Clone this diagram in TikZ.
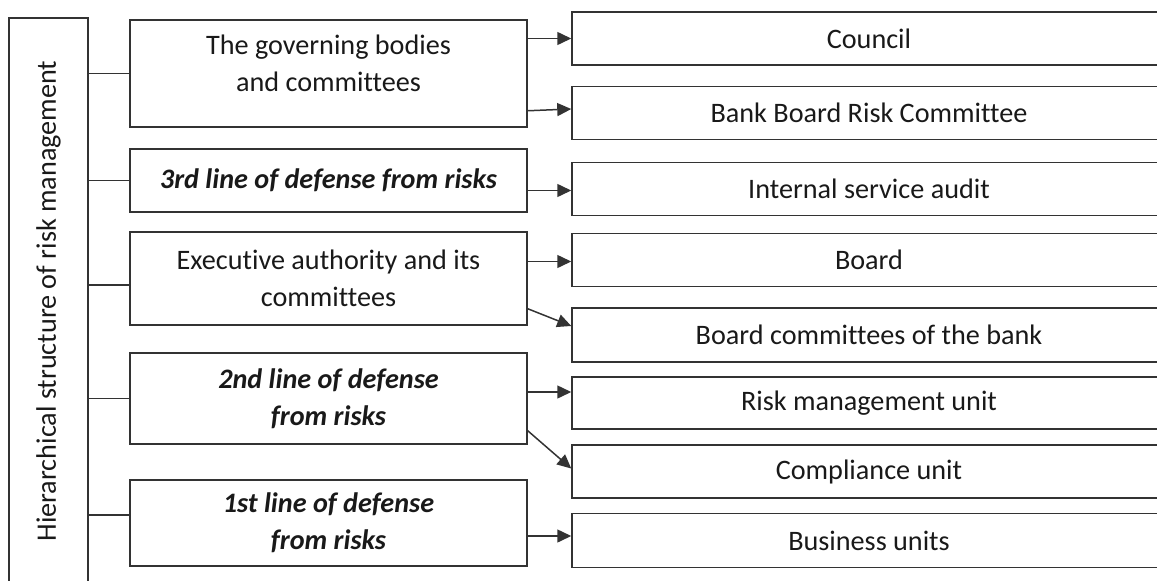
\documentclass[tikz,border=0pt]{standalone}
\usepackage{fontspec}
\setmainfont{Carlito}[Ligatures=NoCommon]
\usetikzlibrary{positioning}
\usetikzlibrary{arrows.meta}

\begin{document}
\begin{tikzpicture}[x=1pt, y=1pt,
		every node/.style={font=\fontsize{28.2}{37}\selectfont, text=black!90},
		box/.style={draw=black!80, line width=1.5pt, rectangle, inner sep=0pt},
		midbox/.style={box, minimum width=397pt, align=center},
		leafbox/.style={box, minimum width=594pt, minimum height=53pt},
		bi/.style={font=\fontsize{28.2}{37}\selectfont\bfseries\itshape},
		link/.style={draw=black!80, line width=1.5pt},
		arr/.style={link, -{Triangle[length=14pt, width=13pt]}}]
		\useasboundingbox (0,0) rectangle (1157,-581);
		\clip (0,0) rectangle (1157,-581);
		
		\node[box, minimum width=79pt, minimum height=566pt] (root) at (48.5,-301) {\rotatebox{90}{Hierarchical structure of risk management}};
		
		\node[midbox, minimum height=107pt] (mid1) at (328.5,-73.5) {The governing bodies\\and committees\\[-17pt]\mbox{}};
		\node[midbox, minimum height=63pt, bi] (mid2) at (328.5,-180.5) {3rd line of defense from risks};
		\node[midbox, minimum height=93pt] (mid3) at (328.5,-278.5) {Executive authority and its\\committees};
		\node[midbox, minimum height=91pt, bi] (mid4) at (328.5,-398.5) {2nd line of defense\\from risks};
		\node[midbox, minimum height=86pt, bi] (mid5) at (328.5,-523) {1st line of defense\\from risks};
		
		\node[leafbox] (council) at (869,-38.5) {Council};
		\node[leafbox, below = 20pt of council] (bbrc) {Bank Board Risk Committee};
		\node[leafbox, below = 21.5pt of bbrc] (audit) {Internal service audit};
		\node[leafbox, below = 16.5pt of audit] (board) {Board};
		\node[leafbox, minimum height=54pt, below = 20pt of board] (bcom) {Board committees of the bank};
		\node[leafbox, minimum height=52pt, below = 13.5pt of bcom] (riskunit) {Risk management unit};
		\node[leafbox, below = 14.5pt of riskunit] (comp) {Compliance unit};
		\node[leafbox, minimum height=54pt, below = 14pt of comp] (bus) {Business units};
		
		\draw[link] (root.east |- mid1.west) -- (mid1.west);
		\draw[link] (root.east |- mid2.west) -- (mid2.west);
		\draw[link] ([yshift=-6.5pt]mid3.west -| root.east) -- ([yshift=-6.5pt]mid3.west);
		\draw[link] (root.east |- mid4.west) -- (mid4.west);
		\draw[link] ([yshift=8pt]mid5.west -| root.east) -- ([yshift=8pt]mid5.west);
		
		\path (mid1.east |- council) edge[arr] (council);
		\path ([yshift=17pt]mid1.south east) edge[arr] ([yshift=4pt]bbrc.west);
		\path ([yshift=-1.5pt]mid2.east |- audit) edge[arr] ([yshift=-1.5pt]audit.west);
		\path ([yshift=-1.5pt]mid3.east |- board) edge[arr] ([yshift=-1.5pt]board.west);
		\path ([yshift=17pt]mid3.south east) edge[arr] ([yshift=9pt]bcom.west);
		\path ([yshift=6.5pt]mid4.east) edge[arr] ([yshift=6.5pt]mid4.east -| riskunit.west);
		\path ([yshift=14pt]mid4.south east) edge[arr] ([yshift=3pt]comp.west);
		\path ([yshift=-13pt]mid5.east) edge[arr] ([yshift=-13pt]mid5.east -| bus.west);
	\end{tikzpicture}
\end{document}
